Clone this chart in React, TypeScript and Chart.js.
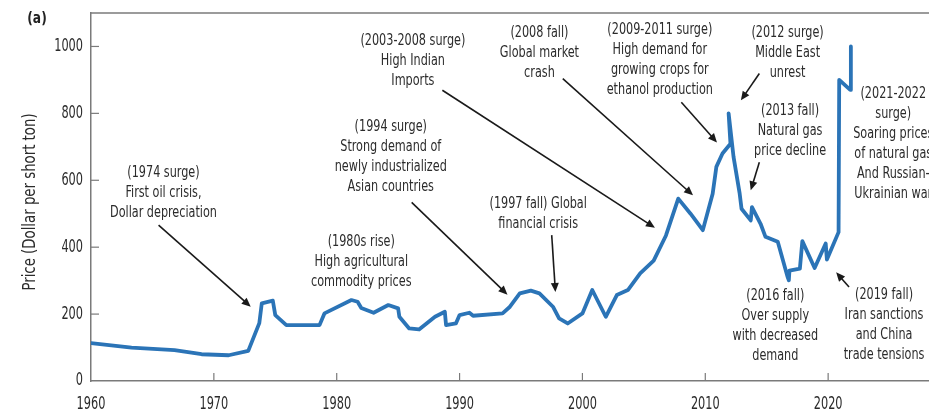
import { useEffect, useRef } from "react";
import { Chart, registerables } from "chart.js";
Chart.register(...registerables);

const panelLabel = "(a)";
const yTitle = "Price (Dollar per short ton)";
const xTicks = [1960, 1970, 1980, 1990, 2000, 2010, 2020];
const yTicks = [0, 200, 400, 600, 800, 1000];

const years = [
  1960, 1963.3, 1966.8, 1969.0, 1971.2, 1972.8, 1973.7, 1973.9, 1974.8, 1975.0,
  1975.9, 1978.6, 1979.0, 1981.2, 1981.7, 1982.0, 1983.0, 1984.2, 1985.0, 1985.1,
  1985.9, 1986.7, 1988.0, 1988.8, 1988.9, 1989.7, 1990.0, 1990.8, 1991.1, 1993.5,
  1994.1, 1994.9, 1995.8, 1996.5, 1997.6, 1998.1, 1998.8, 2000.0, 2000.8, 2001.9,
  2002.8, 2003.7, 2004.7, 2005.8, 2006.8, 2007.8, 2008.8, 2009.8, 2010.6, 2010.9,
  2011.4, 2012.05, 2011.9, 2012.3, 2012.8, 2012.95, 2013.7, 2013.8, 2014.5, 2014.9,
  2015.9, 2016.7, 2016.8, 2016.85, 2017.7, 2017.9, 2018.9, 2019.8, 2019.9, 2020.85,
  2020.9, 2021.8, 2021.85,
];
const prices = [
  113, 100, 92, 80, 77, 90, 173, 232, 240, 197,
  167, 167, 202, 242, 237, 218, 204, 227, 217, 192,
  157, 154, 192, 207, 167, 172, 197, 204, 195, 202,
  222, 262, 270, 262, 222, 187, 172, 202, 272, 192,
  257, 272, 322, 360, 435, 545, 500, 451, 560, 640,
  680, 709, 800, 670, 560, 515, 480, 520, 470, 431,
  416, 311, 301, 330, 336, 418, 338, 411, 363, 445,
  900, 870, 1000,
];

type Note = { lines: string[]; x: number; y: number; arrow?: number[] };
const notes: Note[] = [
  { lines: ["(1974 surge)", "First oil crisis,", "Dollar depreciation"], x: 1965.9, y: 622, arrow: [1965.5, 466, 1973.0, 222] },
  { lines: ["(1980s rise)", "High agricultural", "commodity prices"], x: 1982.0, y: 415 },
  { lines: ["(1994 surge)", "Strong demand of", "newly industrialized", "Asian countries"], x: 1984.4, y: 761, arrow: [1986.1, 534, 1993.9, 258] },
  { lines: ["(1997 fall) Global", "financial crisis"], x: 1996.4, y: 531, arrow: [1997.5, 436, 1997.8, 266] },
  { lines: ["(2003-2008 surge)", "High Indian", "Imports"], x: 1986.2, y: 1017, arrow: [1988.6, 869, 2005.9, 458] },
  { lines: ["(2008 fall)", "Global market", "crash"], x: 1996.5, y: 1040, arrow: [1998.4, 904, 2009.0, 555] },
  { lines: ["(2009-2011 surge)", "High demand for", "growing crops for", "ethanol production"], x: 2006.3, y: 1049, arrow: [2008.05, 833, 2010.95, 713] },
  { lines: ["(2012 surge)", "Middle East", "unrest"], x: 2016.7, y: 1040, arrow: [2014.4, 919, 2012.9, 839] },
  { lines: ["(2013 fall)", "Natural gas", "price decline"], x: 2016.9, y: 809, arrow: [2014.4, 654, 2013.7, 570] },
  { lines: ["(2016 fall)", "Over supply", "with decreased", "demand"], x: 2015.7, y: 254 },
  { lines: ["(2019 fall)", "Iran sanctions", "and China", "trade tensions"], x: 2024.55, y: 257, arrow: [2021.7, 281, 2020.65, 325] },
  { lines: ["(2021-2022", "surge)", "Soaring prices", "of natural gas", "And Russian-", "Ukrainian war"], x: 2025.3, y: 857 },
];

const FONT = "'Liberation Sans Narrow', 'DejaVu Sans Condensed', sans-serif";
const TEXT = "#2b2b2b";
const AXIS = "#7a7a7a";

function narrowText(ctx: CanvasRenderingContext2D, s: string, x: number, y: number, sx: number) {
  ctx.save();
  ctx.translate(x, y);
  ctx.scale(sx, 1);
  ctx.fillText(s, 0, 0);
  ctx.restore();
}

const overlay = {
  id: "overlay",
  afterDraw(chart: any) {
    const { ctx, chartArea, scales } = chart;
    const xs = scales.x;
    const ys = scales.y;
    ctx.save();
    // top frame line
    ctx.strokeStyle = AXIS;
    ctx.lineWidth = 1.5;
    ctx.beginPath();
    ctx.moveTo(chartArea.left, chartArea.top);
    ctx.lineTo(chart.width, chartArea.top);
    ctx.stroke();
    // inner ticks
    ctx.lineWidth = 1.2;
    yTicks.forEach((v) => {
      if (v === 0) return;
      const py = ys.getPixelForValue(v);
      ctx.beginPath();
      ctx.moveTo(chartArea.left, py);
      ctx.lineTo(chartArea.left + 8, py);
      ctx.stroke();
    });
    xTicks.forEach((v) => {
      if (v === xTicks[0]) return;
      const px = xs.getPixelForValue(v);
      ctx.beginPath();
      ctx.moveTo(px, chartArea.bottom);
      ctx.lineTo(px, chartArea.bottom - 8);
      ctx.stroke();
    });
    // tick labels
    ctx.fillStyle = TEXT;
    ctx.font = `17px ${FONT}`;
    ctx.textBaseline = "middle";
    ctx.textAlign = "right";
    yTicks.forEach((v) => {
      narrowText(ctx, String(v), chartArea.left - 8, ys.getPixelForValue(v), 0.74);
    });
    ctx.textAlign = "center";
    xTicks.forEach((v) => {
      narrowText(ctx, String(v), xs.getPixelForValue(v), chartArea.bottom + 24, 0.74);
    });
    // y title
    ctx.font = `17px ${FONT}`;
    ctx.save();
    ctx.translate(31, (chartArea.top + chartArea.bottom) / 2 + 5);
    ctx.rotate(-Math.PI / 2);
    narrowText(ctx, yTitle, 0, 0, 0.87);
    ctx.restore();
    // panel label
    ctx.font = `bold 16px ${FONT}`;
    ctx.fillStyle = "#222";
    narrowText(ctx, panelLabel, 37, 19, 0.85);
    // annotations
    ctx.font = `16px ${FONT}`;
    ctx.fillStyle = TEXT;
    notes.forEach((n) => {
      const cx = xs.getPixelForValue(n.x);
      const cy = ys.getPixelForValue(n.y);
      n.lines.forEach((l, i) => narrowText(ctx, l, cx, cy + i * 20, 0.78));
      if (n.arrow) {
        const x1 = xs.getPixelForValue(n.arrow[0]);
        const y1 = ys.getPixelForValue(n.arrow[1]);
        const x2 = xs.getPixelForValue(n.arrow[2]);
        const y2 = ys.getPixelForValue(n.arrow[3]);
        const ang = Math.atan2(y2 - y1, x2 - x1);
        const hl = 9, hw = 4;
        ctx.strokeStyle = "#1a1a1a";
        ctx.lineWidth = 1.6;
        ctx.beginPath();
        ctx.moveTo(x1, y1);
        ctx.lineTo(x2 - Math.cos(ang) * hl * 0.8, y2 - Math.sin(ang) * hl * 0.8);
        ctx.stroke();
        ctx.fillStyle = "#1a1a1a";
        ctx.beginPath();
        ctx.moveTo(x2, y2);
        ctx.lineTo(x2 - Math.cos(ang) * hl - Math.sin(ang) * hw, y2 - Math.sin(ang) * hl + Math.cos(ang) * hw);
        ctx.lineTo(x2 - Math.cos(ang) * hl + Math.sin(ang) * hw, y2 - Math.sin(ang) * hl - Math.cos(ang) * hw);
        ctx.closePath();
        ctx.fill();
        ctx.fillStyle = TEXT;
      }
    });
    ctx.restore();
  },
};

export default function App() {
  const ref = useRef<HTMLCanvasElement>(null);
  useEffect(() => {
    if (!ref.current) return;
    const chart = new Chart(ref.current, {
      type: "line",
      data: {
        datasets: [
          {
            data: years.map((x, i) => ({ x, y: prices[i] })),
            borderColor: "#2b74b7",
            borderWidth: 3.8,
            pointRadius: 0,
            tension: 0,
            borderJoinStyle: "round",
            borderCapStyle: "round",
            fill: false,
          },
        ],
      },
      options: {
        responsive: false,
        animation: false,
        layout: { padding: { left: 0, right: 0, top: 13, bottom: 0 } },
        plugins: { legend: { display: false }, tooltip: { enabled: false } },
        scales: {
          x: {
            type: "linear",
            min: 1960,
            max: 2030,
            grid: { display: false, drawTicks: false },
            border: { display: true, color: AXIS, width: 1.5 },
            afterBuildTicks: (s: any) => {
              s.ticks = xTicks.map((v) => ({ value: v }));
            },
            afterFit: (s: any) => {
              s.height = 31;
            },
            ticks: { display: false },
          },
          y: {
            type: "linear",
            min: 0,
            max: 1100,
            grid: { display: false, drawTicks: false },
            border: { display: true, color: AXIS, width: 1.5 },
            afterBuildTicks: (s: any) => {
              s.ticks = yTicks.map((v) => ({ value: v }));
            },
            afterFit: (s: any) => {
              s.width = 91;
            },
            ticks: { display: false },
          },
        },
      },
      plugins: [overlay],
    });
    return () => chart.destroy();
  }, []);
  return (
    <div style={{ position: "fixed", left: 0, top: 0, width: 929, height: 412, overflow: "hidden", background: "#fff" }}>
      <canvas ref={ref} width={951} height={412} style={{ width: 951, height: 412, display: "block" }} />
    </div>
  );
}
